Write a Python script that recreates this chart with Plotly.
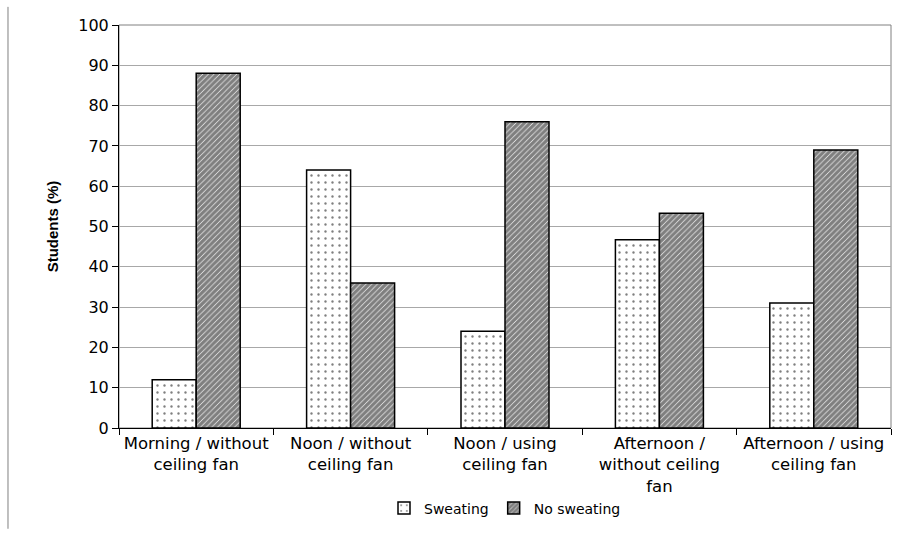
import plotly.graph_objects as go

categories = ["Morning / without<br>ceiling fan", "Noon / without<br>ceiling fan",
              "Noon / using<br>ceiling fan", "Afternoon /<br>without ceiling<br>fan",
              "Afternoon / using<br>ceiling fan"]
sweating = [12, 64, 24, 46.7, 31]
no_sweating = [88, 36, 76, 53.3, 69]
y_ticks = [0, 10, 20, 30, 40, 50, 60, 70, 80, 90, 100]

font = "DejaVu Sans, Arial, sans-serif"

fig = go.Figure()
fig.add_trace(go.Bar(
    x=categories, y=sweating, name="Sweating",
    marker=dict(color="white", line=dict(color="black", width=1.5),
                pattern=dict(shape=".", fgcolor="black", bgcolor="white", size=7, solidity=0.09)),
))
fig.add_trace(go.Bar(
    x=categories, y=no_sweating, name="No sweating",
    marker=dict(color="white", line=dict(color="black", width=1.5),
                pattern=dict(shape="/", fgcolor="black", bgcolor="white", size=4, solidity=0.85)),
))

fig.update_layout(
    width=901, height=533,
    margin=dict(l=119, r=10, t=25, b=105, autoexpand=False),
    paper_bgcolor="white", plot_bgcolor="white",
    barmode="group", bargap=0.43, bargroupgap=0,
    font=dict(family=font, color="black", size=15),
    showlegend=True,
    legend=dict(orientation="h", x=0.5, xanchor="center", y=-0.16, yanchor="top",
                font=dict(size=14, family=font), tracegroupgap=0),
    xaxis=dict(showline=True, linecolor="black", linewidth=1, ticks="outside",
               tickson="boundaries", ticklen=6, tickcolor="black", automargin=False,
               tickangle=0,
               tickfont=dict(size=16.5, family=font), showgrid=False),
    yaxis=dict(range=[0, 100], tickvals=y_ticks, showline=True, linecolor="black", linewidth=1,
               ticks="outside", ticklen=6, tickcolor="black", showgrid=True, automargin=False,
               gridcolor="#a8a8a8", gridwidth=1, tickfont=dict(size=16, family=font),
               title=dict(text="<b>Students (%)</b>",
                          font=dict(size=15, family="Liberation Sans, Arial, sans-serif"),
                          standoff=16),
               zeroline=False),
    shapes=[
        dict(type="rect", xref="paper", yref="paper", x0=0, x1=1, y0=0, y1=1,
             line=dict(color="#808080", width=1), layer="below"),
        dict(type="line", xref="paper", yref="paper", x0=-0.1438, x1=-0.1438, y0=-0.25, y1=1.045,
             line=dict(color="#808080", width=1)),
    ],
)

fig.write_html("out.html", config={"displayModeBar": False},
               post_script="document.body.style.margin='0';document.body.style.overflow='hidden';")
